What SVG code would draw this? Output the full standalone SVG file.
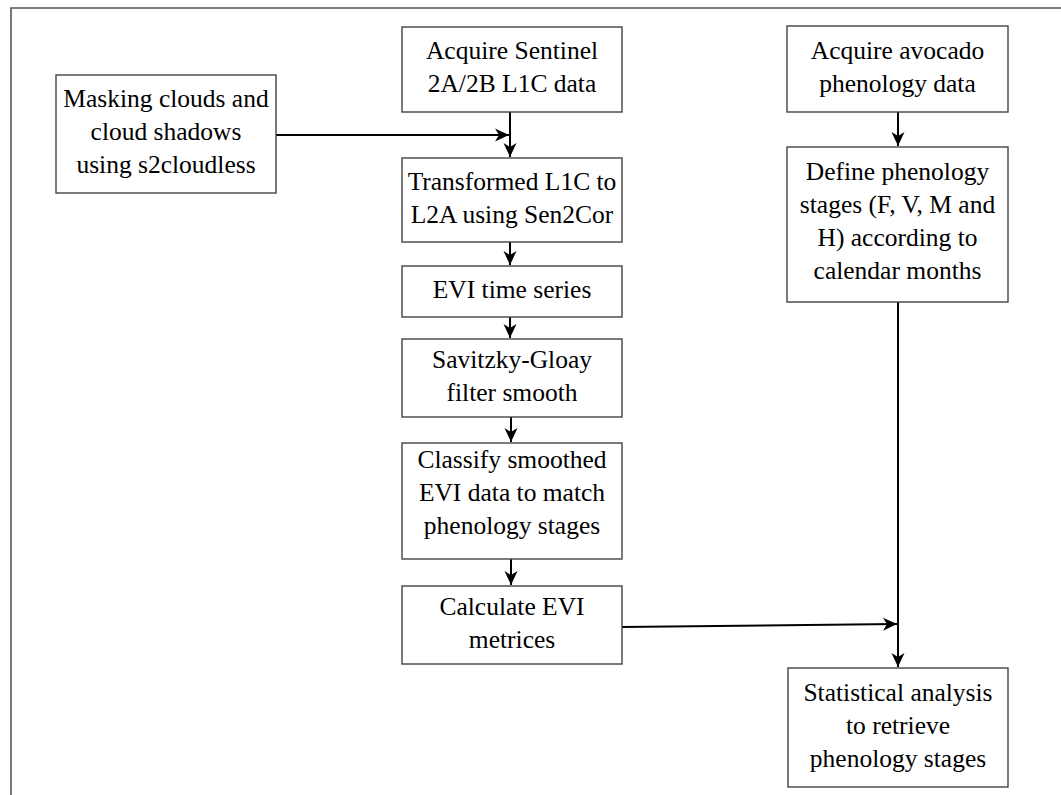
<svg xmlns="http://www.w3.org/2000/svg" width="1061" height="795" viewBox="0 0 1061 795">
<defs>
<style>
.box{fill:#fff;stroke:#444;stroke-width:1.4}
.t{font-family:"Liberation Serif","Times New Roman",serif;font-size:25.5px;fill:#000;text-anchor:middle}
.c{fill:none;stroke:#000;stroke-width:2}
.frame{fill:none;stroke:#555;stroke-width:1.6}
</style>
<marker id="ah" markerUnits="userSpaceOnUse" markerWidth="16" markerHeight="16" viewBox="0 0 16 16" refX="15" refY="8" orient="auto">
<path d="M1,1.5 L15,8 L1,14.5 L5,8 Z" fill="#000"/>
</marker>
</defs>
<rect width="1061" height="795" fill="#fff"/>
<path class="frame" d="M11,795 L11,8 L1061,8"/>
<g id="connectors">
<line class="c" x1="276" y1="135" x2="509" y2="135" marker-end="url(#ah)"/>
<line class="c" x1="510" y1="112" x2="510" y2="157" marker-end="url(#ah)"/>
<line class="c" x1="510" y1="242" x2="510" y2="265" marker-end="url(#ah)"/>
<line class="c" x1="510" y1="317" x2="510" y2="338" marker-end="url(#ah)"/>
<line class="c" x1="511" y1="417" x2="511" y2="442" marker-end="url(#ah)"/>
<line class="c" x1="511" y1="559" x2="511" y2="585" marker-end="url(#ah)"/>
<line class="c" x1="622" y1="627" x2="897" y2="624" marker-end="url(#ah)"/>
<line class="c" x1="898" y1="112" x2="898" y2="146" marker-end="url(#ah)"/>
<line class="c" x1="898" y1="302" x2="898" y2="667" marker-end="url(#ah)"/>
</g>
<g id="masking">
<rect class="box" x="56" y="75" width="220" height="118"/>
<text class="t" x="166" y="107">Masking clouds and</text>
<text class="t" x="166" y="140">cloud shadows</text>
<text class="t" x="166" y="173">using s2cloudless</text>
</g>
<g id="acquire-sentinel">
<rect class="box" x="402" y="27" width="220" height="85"/>
<text class="t" x="512" y="59">Acquire Sentinel</text>
<text class="t" x="512" y="92">2A/2B L1C data</text>
</g>
<g id="transformed">
<rect class="box" x="402" y="158" width="220" height="84"/>
<text class="t" x="512" y="190">Transformed L1C to</text>
<text class="t" x="512" y="223">L2A using Sen2Cor</text>
</g>
<g id="evi-time-series">
<rect class="box" x="402" y="266" width="220" height="51"/>
<text class="t" x="512" y="297.5">EVI time series</text>
</g>
<g id="savitzky">
<rect class="box" x="402" y="339" width="220" height="78"/>
<text class="t" x="512" y="367.5">Savitzky-Gloay</text>
<text class="t" x="512" y="400.5">filter smooth</text>
</g>
<g id="classify">
<rect class="box" x="402" y="443" width="220" height="116"/>
<text class="t" x="512" y="468">Classify smoothed</text>
<text class="t" x="512" y="501">EVI data to match</text>
<text class="t" x="512" y="534">phenology stages</text>
</g>
<g id="calculate">
<rect class="box" x="402" y="586" width="220" height="78"/>
<text class="t" x="512" y="614.5">Calculate EVI</text>
<text class="t" x="512" y="647.5">metrices</text>
</g>
<g id="acquire-avocado">
<rect class="box" x="787" y="26" width="221" height="86"/>
<text class="t" x="897.5" y="59">Acquire avocado</text>
<text class="t" x="897.5" y="92">phenology data</text>
</g>
<g id="define">
<rect class="box" x="787" y="147" width="221" height="155"/>
<text class="t" x="897.5" y="180">Define phenology</text>
<text class="t" x="897.5" y="213">stages (F, V, M and</text>
<text class="t" x="897.5" y="246">H) according to</text>
<text class="t" x="897.5" y="279">calendar months</text>
</g>
<g id="statistical">
<rect class="box" x="788" y="668" width="220" height="119"/>
<text class="t" x="898" y="700.5">Statistical analysis</text>
<text class="t" x="898" y="733.5">to retrieve</text>
<text class="t" x="898" y="766.5">phenology stages</text>
</g>
</svg>
